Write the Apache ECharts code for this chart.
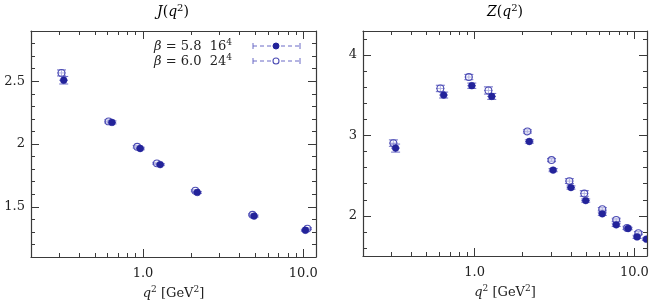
<!DOCTYPE html>
<html><head><meta charset="utf-8">
<script src="https://cdn.jsdelivr.net/npm/echarts@6/dist/echarts.min.js"></script>
<style>html,body{margin:0;padding:0;background:#fff}#c{width:654px;height:300px}</style>
</head><body><div id="c"></div>
<script>
// ---- data: [q2, value, q2 error, value error] ----
const J_beta58 = [[0.32,2.508,0.02,0.03],[0.64,2.172,0.04,0.012],[0.96,1.964,0.06,0.01],[1.28,1.836,0.08,0.008],[2.18,1.614,0.13,0.008],[4.93,1.426,0.3,0.008],[10.3,1.313,0.62,0.008]];
const J_beta60 = [[0.31,2.566,0.019,0.024],[0.61,2.18,0.037,0.012],[0.92,1.978,0.055,0.01],[1.22,1.846,0.073,0.008],[2.12,1.628,0.13,0.008],[4.82,1.436,0.29,0.008],[10.6,1.326,0.64,0.008]];
const Z_beta58 = [[0.32,2.843,0.02,0.05],[0.64,3.503,0.04,0.037],[0.96,3.619,0.06,0.033],[1.28,3.486,0.08,0.037],[2.2,2.925,0.13,0.02],[3.1,2.569,0.19,0.02],[4.01,2.352,0.24,0.02],[4.96,2.19,0.3,0.02],[6.3,2.025,0.38,0.02],[7.7,1.888,0.46,0.02],[9.14,1.842,0.55,0.015],[10.4,1.738,0.62,0.02],[11.9,1.71,0.7,0.015]];
const Z_beta60 = [[0.31,2.905,0.019,0.04],[0.61,3.585,0.037,0.04],[0.92,3.727,0.055,0.033],[1.22,3.56,0.073,0.045],[2.14,3.05,0.13,0.02],[3.03,2.694,0.18,0.02],[3.92,2.432,0.24,0.03],[4.86,2.278,0.29,0.035],[6.3,2.083,0.38,0.02],[7.7,1.95,0.46,0.02],[9.0,1.85,0.54,0.02],[10.6,1.785,0.64,0.02]];
const xMajorTicks = [1, 10];
const xMinorTicks = [0.3,0.4,0.5,0.6,0.7,0.8,0.9,2,3,4,5,6,7,8,9];
const jYMajor = [1.5, 2, 2.5];
const jYMinor = [1.2,1.3,1.4,1.6,1.7,1.8,1.9,2.1,2.2,2.3,2.4,2.6,2.7,2.8];
const zYMajor = [2, 3, 4];
const zYMinor = [1.6,1.8,2.2,2.4,2.6,2.8,3.2,3.4,3.6,3.8,4.2];
const legendLabels = ['{i|β}{n| = 5.8  16}{s|4}', '{i|β}{n| = 6.0  24}{s|4}'];
const titles = ['{i|J}{n|(}{i|q}{s|2}{n|)}', '{i|Z}{n|(}{i|q}{s|2}{n|)}'];
const xName = '{i|q}{s|2}{n| [GeV}{s|2}{n|]}';

const FONT = 'DejaVu Serif';
const FRAME = '#3a3a3a';
const ERR = '#6b6bc6';
const FILL = '#23239a';
const OPEN = '#4c4cb4';
function mkRich(fs) {
  return {
    i:{fontStyle:'italic', fontFamily:FONT, fontSize:fs, color:'#222', lineHeight:fs+2, verticalAlign:'bottom'},
    n:{fontFamily:FONT, fontSize:fs, color:'#222', lineHeight:fs+2, verticalAlign:'bottom'},
    s:{fontFamily:FONT, fontSize:Math.round(fs*0.72), color:'#222', lineHeight:Math.round(fs*0.72), verticalAlign:'top'}
  };
}

function xAxes(grid) {
  const base = {type:'log', logBase:10, min:0.2, max:12, gridIndex:grid, splitLine:{show:false}};
  const line = {show:true, lineStyle:{color:FRAME, width:1.2}};
  return [
    Object.assign({}, base, {position:'bottom', axisLine:line,
      axisTick:{inside:true, length:8, customValues:xMajorTicks, lineStyle:{color:FRAME}},
      axisLabel:{customValues:xMajorTicks, formatter:v=>Number(v).toFixed(1), fontFamily:FONT, fontSize:13, color:'#222', margin:10},
      name:xName, nameLocation:'middle', nameGap:22,
      nameTextStyle:{fontFamily:FONT, fontSize:13, color:'#222', rich:mkRich(13)}}),
    Object.assign({}, base, {position:'bottom', axisLine:{show:false},
      axisTick:{inside:true, length:4, customValues:xMinorTicks, lineStyle:{color:FRAME}}, axisLabel:{show:false}}),
    Object.assign({}, base, {position:'top', axisLine:line,
      axisTick:{inside:true, length:8, customValues:xMajorTicks, lineStyle:{color:FRAME}}, axisLabel:{show:false}}),
    Object.assign({}, base, {position:'top', axisLine:{show:false},
      axisTick:{inside:true, length:4, customValues:xMinorTicks, lineStyle:{color:FRAME}}, axisLabel:{show:false}})
  ];
}
function yAxes(grid, min, max, major, minor) {
  const base = {type:'value', min, max, gridIndex:grid, splitLine:{show:false}};
  const line = {show:true, lineStyle:{color:FRAME, width:1.2}};
  return [
    Object.assign({}, base, {position:'left', axisLine:line,
      axisTick:{inside:true, length:8, customValues:major, lineStyle:{color:FRAME}},
      axisLabel:{customValues:major, fontFamily:FONT, fontSize:13, color:'#222', margin:6}}),
    Object.assign({}, base, {position:'left', axisLine:{show:false},
      axisTick:{inside:true, length:4, customValues:minor, lineStyle:{color:FRAME}}, axisLabel:{show:false}}),
    Object.assign({}, base, {position:'right', axisLine:line,
      axisTick:{inside:true, length:8, customValues:major, lineStyle:{color:FRAME}}, axisLabel:{show:false}}),
    Object.assign({}, base, {position:'right', axisLine:{show:false},
      axisTick:{inside:true, length:4, customValues:minor, lineStyle:{color:FRAME}}, axisLabel:{show:false}})
  ];
}

function errSeries(data, xi, yi, filled) {
  return {
    type:'custom', xAxisIndex:xi, yAxisIndex:yi, clip:true, data,
    encode:{x:0, y:1},
    renderItem(params, api) {
      const x = api.value(0), y = api.value(1), dx = api.value(2), dy = api.value(3);
      const c = api.coord([x, y]);
      const xl = api.coord([x - dx, y])[0], xr = api.coord([x + dx, y])[0];
      const yt = api.coord([x, y + dy])[1], yb = api.coord([x, y - dy])[1];
      const cap = 4.5, ls = {stroke:ERR, lineWidth:1};
      return {type:'group', children:[
        {type:'line', shape:{x1:xl, y1:c[1], x2:xr, y2:c[1]}, style:ls},
        {type:'line', shape:{x1:c[0], y1:yt, x2:c[0], y2:yb}, style:ls},
        {type:'line', shape:{x1:c[0]-cap, y1:yt, x2:c[0]+cap, y2:yt}, style:ls},
        {type:'line', shape:{x1:c[0]-cap, y1:yb, x2:c[0]+cap, y2:yb}, style:ls},
        {type:'circle', shape:{cx:c[0], cy:c[1], r:3.4},
          style: filled ? {fill:FILL, stroke:FILL, lineWidth:0.5} : {fill:'rgba(255,255,255,0.5)', stroke:OPEN, lineWidth:1.1}}
      ]};
    }
  };
}

const chart = echarts.init(document.getElementById('c'), null, {renderer:'canvas'});
const legendY = [46, 61];
const legendGraphics = [];
legendLabels.forEach((t, k) => {
  legendGraphics.push({type:'text', x:232, y:legendY[k], style:{text:t, align:'right', verticalAlign:'middle',
    fontFamily:FONT, fontSize:13, fill:'#222', rich:mkRich(13)}});
  const ls = {stroke:ERR, lineWidth:1};
  legendGraphics.push({type:'line', shape:{x1:253, y1:legendY[k], x2:300, y2:legendY[k]}, style:Object.assign({lineDash:[4,3]}, ls)});
  legendGraphics.push({type:'line', shape:{x1:253, y1:legendY[k]-3, x2:253, y2:legendY[k]+3}, style:ls});
  legendGraphics.push({type:'line', shape:{x1:300, y1:legendY[k]-3, x2:300, y2:legendY[k]+3}, style:ls});
  legendGraphics.push({type:'circle', shape:{cx:276, cy:legendY[k], r:3},
    style: k === 0 ? {fill:FILL, stroke:FILL} : {fill:'#fff', stroke:OPEN, lineWidth:1.1}, z:10});
});

chart.setOption({
  animation:false,
  grid:[{left:31, top:31, width:285, height:226, outerBoundsMode:'none', containLabel:false},
        {left:363, top:31, width:284, height:225, outerBoundsMode:'none', containLabel:false}],
  xAxis:[...xAxes(0), ...xAxes(1)],
  yAxis:[...yAxes(0, 1.1, 2.9, jYMajor, jYMinor), ...yAxes(1, 1.5, 4.3, zYMajor, zYMinor)],
  series:[
    errSeries(J_beta60, 0, 0, false), errSeries(J_beta58, 0, 0, true),
    errSeries(Z_beta60, 4, 4, false), errSeries(Z_beta58, 4, 4, true)
  ],
  graphic:[
    {type:'text', x:173, y:11, style:{text:titles[0], align:'center', verticalAlign:'middle', rich:mkRich(14)}},
    {type:'text', x:505, y:11, style:{text:titles[1], align:'center', verticalAlign:'middle', rich:mkRich(14)}},
    ...legendGraphics
  ]
});
</script></body></html>
